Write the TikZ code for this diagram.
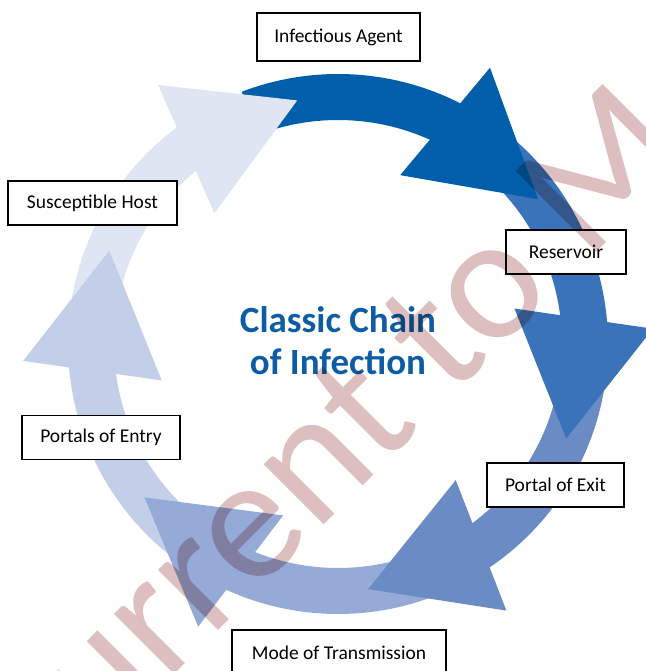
\documentclass[tikz,border=0pt]{standalone}
\usepackage{fontspec}
\setmainfont{Carlito}
\usetikzlibrary{calc}
\definecolor{chainA}{RGB}{0,94,171}
\definecolor{chainB}{RGB}{58,115,185}
\definecolor{chainC}{RGB}{106,139,196}
\definecolor{chainD}{RGB}{149,170,215}
\definecolor{chainE}{RGB}{195,206,233}
\definecolor{chainF}{RGB}{224,229,243}
\definecolor{titleblue}{RGB}{12,93,165}
\definecolor{wmark}{RGB}{222,191,191}
% ring segment from the tail down to under the head
\newcommand*{\chainbody}[2]{%
  \fill[#2] (#1+75:224pt) arc[start angle=#1+75, end angle=#1+25, radius=224pt]
    -- (#1+25:270pt) arc[start angle=#1+25, end angle=#1+75, radius=270pt] -- cycle;
}
% triangular head, base square to the chord towards the tip
\newcommand*{\chainhead}[2]{%
  \coordinate (hbase) at (#1+28.4:247pt);
  \coordinate (htip) at (#1:247pt);
  \fill[#2] ($(hbase)!70pt!90:(htip)$) -- (htip) -- ($(hbase)!70pt!-90:(htip)$) -- cycle;
}

\begin{document}
\begin{tikzpicture}[x=1pt, y=1pt,
    tag/.style = {draw, line width=1.3pt, fill=white, minimum height=44pt,
                  inner sep=0pt, font=\fontsize{19.5}{22}\selectfont},
    title/.style = {align=center, text=titleblue,
                    font=\fontsize{37}{42}\selectfont\bfseries}]
  \useasboundingbox (-338,-327) rectangle (307,344);
  % bodies first, so every head lies on the next tail
  \chainbody{35.9}{chainA}
  \chainbody{-22.5}{chainB}
  \chainbody{-83}{chainC}
  \chainbody{218.4}{chainD}
  \chainbody{157.8}{chainE}
  \chainbody{99.5}{chainF}
  \chainhead{35.9}{chainA}
  \chainhead{-22.5}{chainB}
  \chainhead{-83}{chainC}
  \chainhead{218.4}{chainD}
  \chainhead{157.8}{chainE}
  \chainhead{99.5}{chainF}

  \node[title] (title) at (0,3) {Classic Chain\\of Infection};

  \node[tag, minimum width=163pt, minimum height=48pt] (agent) at (0.5,307) {Infectious Agent};
  \node[tag, minimum width=120pt] (reservoir) at (228,92) {Reservoir};
  \node[tag, minimum width=137pt] (exit) at (217.5,-141) {Portal of Exit};
  \node[tag, minimum width=214pt, minimum height=46pt] (mode) at (1,-309) {Mode of Transmission};
  \node[tag, minimum width=158pt] (entry) at (-237,-93.5) {Portals of Entry};
  \node[tag, minimum width=169pt] (host) at (-245.5,141) {Susceptible Host};

  \begin{scope}[blend mode=multiply]
    \node[rotate=45, anchor=base west, inner sep=0pt, text=wmark,
          font=\fontsize{178}{178}\selectfont] (stamp) at (-305,-472) {Current to M};
  \end{scope}
\end{tikzpicture}
\end{document}
